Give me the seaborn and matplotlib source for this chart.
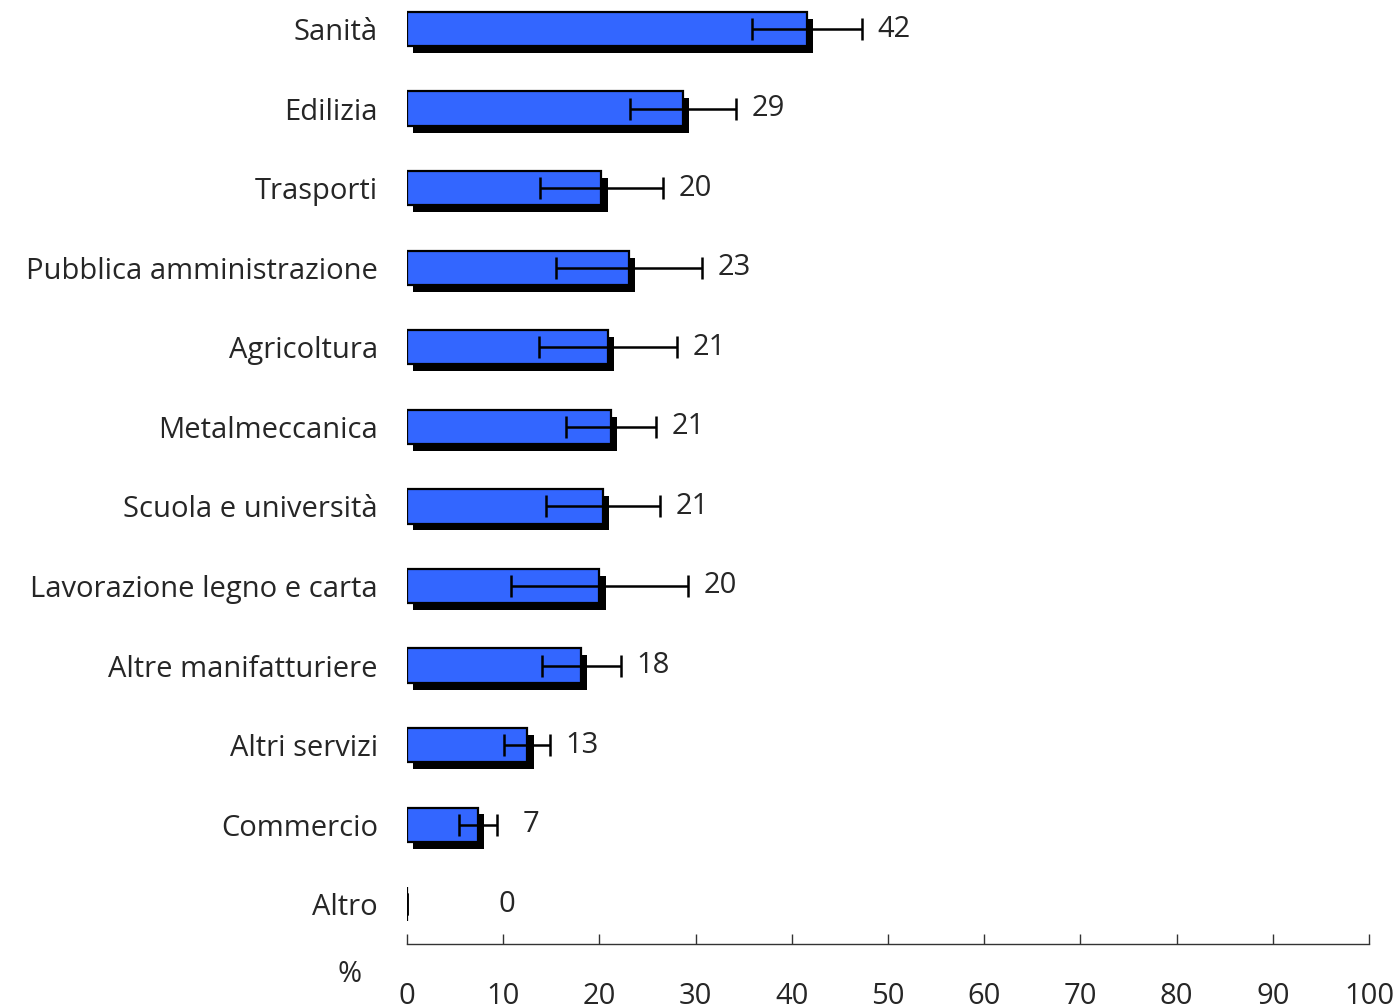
import numpy as np
import pandas as pd
import seaborn as sns
import matplotlib.pyplot as plt
import matplotlib.patheffects as pe

# values
settori = ['Sanità', 'Edilizia', 'Trasporti', 'Pubblica amministrazione', 'Agricoltura',
           'Metalmeccanica', 'Scuola e università', 'Lavorazione legno e carta',
           'Altre manifatturiere', 'Altri servizi', 'Commercio', 'Altro']
percent = [41.6, 28.7, 20.2, 23.1, 20.9, 21.2, 20.4, 20.0, 18.1, 12.5, 7.4, 0.0]
errore = [5.7, 5.5, 6.4, 7.6, 7.2, 4.7, 5.9, 9.2, 4.1, 2.4, 2.0, 0.0]
etichette = ['42', '29', '20', '23', '21', '21', '21', '20', '18', '13', '7', '0']
xticks = [0, 10, 20, 30, 40, 50, 60, 70, 80, 90, 100]

df = pd.DataFrame({'settore': settori, 'percent': percent, 'errore': errore})

sns.set_style('white')
plt.rcParams['font.family'] = ['Open Sans', 'DejaVu Sans']

fig = plt.figure(figsize=(13.97, 10.08), dpi=100)
ax = fig.add_axes([407 / 1397, 64 / 1008, 962 / 1397, 944 / 1008])

sns.barplot(data=df, x='percent', y='settore', orient='h', color='#3366FF',
            saturation=1, width=0.43, edgecolor='black', linewidth=1.6,
            errorbar=None, ax=ax)

# black drop shadow like the old excel chart
for bar in ax.patches:
    bar.set_path_effects([pe.SimplePatchShadow(offset=(4.5, -5), shadow_rgbFace='black', alpha=1),
                          pe.Normal()])

ypos = np.arange(len(settori))
ax.errorbar(df['percent'], ypos, xerr=df['errore'], fmt='none', ecolor='black',
            elinewidth=1.8, capsize=8, capthick=1.8, zorder=5)

# excel pushed the labels of the short bars further right
spinta = {'Commercio': 18, 'Altro': 66}
for y, s, v, e, lab in zip(ypos, settori, percent, errore, etichette):
    ax.annotate(lab, xy=(v + e, y), xytext=(spinta.get(s, 11), 0), textcoords='offset points',
                ha='left', va='center', fontsize=21)

ax.set_xlim(0, 100)
ax.set_ylim(11.5, -0.365)
ax.set_xticks(xticks)
ax.set_xticklabels([str(t) for t in xticks], fontsize=21)
ax.tick_params(axis='x', bottom=True, direction='in', length=7, width=1, color='#333333', pad=27)
ax.tick_params(axis='y', left=False, length=0, pad=21, labelsize=21)
ax.set_xlabel('')
ax.set_ylabel('')
for s in ['top', 'right', 'left']:
    ax.spines[s].set_visible(False)
ax.spines['bottom'].set_color('#333333')
ax.spines['bottom'].set_linewidth(1)

fig.text(350 / 1397, 1 - 975 / 1008, '%', fontsize=21, ha='center', va='center')

fig.savefig('out.png', dpi=100)
